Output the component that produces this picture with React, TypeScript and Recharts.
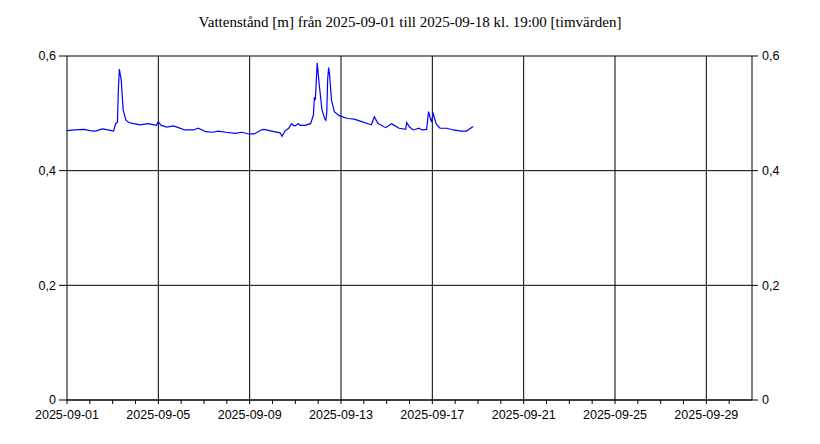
import React from 'react';
import { LineChart, Line, XAxis, YAxis, CartesianGrid, ReferenceLine } from 'recharts';

const TITLE = 'Vattenstånd [m] från 2025-09-01 till 2025-09-18 kl. 19:00 [timvärden]';

// hours since 2025-09-01 00:00
const hours = [
  0, 8, 18, 24, 30, 37, 43, 49, 51, 53, 54, 55, 57, 59, 62, 65, 70, 77, 85, 94,
  96, 99, 105, 112, 117, 124, 133, 138, 146, 153, 159, 167, 177, 184, 191, 197, 204, 207, 215, 224,
  226, 229, 233, 236, 238, 240, 243, 245, 250, 256, 259, 260, 261, 263, 265, 268, 271, 272, 273, 274,
  275, 276, 278, 281, 286, 295, 302, 309, 318, 320, 323, 327, 335, 341, 344, 349, 356, 357, 360, 364,
  370, 373, 378, 380, 383, 385, 388, 392, 399, 406, 414, 420, 426, 427,
];
// water level [m]
const levels = [
  0.470, 0.471, 0.472, 0.470, 0.469, 0.473, 0.471, 0.469, 0.482, 0.484, 0.541, 0.577, 0.558, 0.506, 0.488, 0.484, 0.482, 0.480, 0.482, 0.479,
  0.485, 0.479, 0.476, 0.478, 0.475, 0.471, 0.471, 0.474, 0.468, 0.467, 0.469, 0.467, 0.465, 0.467, 0.464, 0.464, 0.471, 0.472, 0.469, 0.466,
  0.460, 0.469, 0.474, 0.482, 0.479, 0.478, 0.482, 0.479, 0.479, 0.482, 0.497, 0.528, 0.523, 0.588, 0.552, 0.506, 0.490, 0.488, 0.500, 0.560,
  0.580, 0.567, 0.523, 0.503, 0.496, 0.491, 0.490, 0.486, 0.481, 0.480, 0.494, 0.482, 0.475, 0.482, 0.479, 0.474, 0.472, 0.484, 0.476, 0.471,
  0.474, 0.471, 0.472, 0.503, 0.485, 0.499, 0.482, 0.474, 0.474, 0.471, 0.469, 0.469, 0.476, 0.477,
];

const xTicks = [
  0, 24, 48, 72, 96, 120, 144, 168, 192, 216, 240, 264, 288, 312, 336, 360, 384, 408, 432, 456,
  480, 504, 528, 552, 576, 600, 624, 648, 672, 696,
];
const majorX = [96, 192, 288, 384, 480, 576, 672];
const yTicks = [0, 0.2, 0.4, 0.6];

const data = hours.map((h, i) => ({ h, v: levels[i] }));

const fmtY = (v: number) => (v === 0 ? '0' : v.toFixed(1).replace('.', ','));

const XTick = (props: any) => {
  const { x, y, payload } = props;
  const val = payload.value as number;
  if (val % 96 !== 0) return null;
  const day = 1 + val / 24;
  const label = `2025-09-${day < 10 ? '0' + day : day}`;
  return (
    <text x={x} y={y} dy="0.71em" textAnchor="middle" fontFamily="Liberation Sans, Arial, sans-serif" fontSize={12.5} fill="#000">
      {label}
    </text>
  );
};

const tickFont = { fontFamily: 'Liberation Sans, Arial, sans-serif', fontSize: 12.5, fill: '#000' };

export default function App() {
  return (
    <div style={{ position: 'absolute', left: 0, top: 0, width: 820, height: 444, background: '#fff' }}>
      <div
        style={{
          position: 'absolute',
          left: 0,
          top: 14,
          width: 820,
          textAlign: 'center',
          fontFamily: 'Liberation Serif, Times New Roman, serif',
          fontSize: 15,
          color: '#000',
          lineHeight: '17px',
        }}
      >
        {TITLE}
      </div>
      <LineChart width={820} height={444} data={data} margin={{ top: 56, right: 28, bottom: 14, left: 0 }}>
        <CartesianGrid vertical={false} stroke="#000" strokeOpacity={1} yAxisId="left" />
        <XAxis
          dataKey="h"
          type="number"
          domain={[0, 720]}
          ticks={xTicks}
          interval={0}
          height={30}
          tick={<XTick />}
          tickSize={4}
          tickMargin={6}
          axisLine={{ stroke: '#000' }}
          tickLine={{ stroke: '#000' }}
          allowDataOverflow
        />
        <YAxis
          yAxisId="left"
          width={67}
          domain={[0, 0.6]}
          ticks={yTicks}
          interval={0}
          tickFormatter={fmtY}
          tick={tickFont}
          tickSize={8}
          tickMargin={3}
          axisLine={{ stroke: '#000' }}
          tickLine={{ stroke: '#000' }}
        />
        <YAxis
          yAxisId="right"
          orientation="right"
          width={40}
          domain={[0, 0.6]}
          ticks={yTicks}
          interval={0}
          tickFormatter={fmtY}
          tick={tickFont}
          tickSize={6}
          tickMargin={4}
          axisLine={{ stroke: '#000' }}
          tickLine={{ stroke: '#000' }}
        />
        {majorX.map((x) => (
          <ReferenceLine key={x} x={x} yAxisId="left" stroke="#000" strokeWidth={1} />
        ))}
        <Line
          yAxisId="right"
          dataKey="v"
          type="linear"
          stroke="none"
          strokeWidth={0}
          dot={false}
          activeDot={false}
          legendType="none"
          isAnimationActive={false}
        />
        <Line
          yAxisId="left"
          dataKey="v"
          type="linear"
          stroke="#0000ff"
          strokeWidth={1.2}
          dot={false}
          isAnimationActive={false}
        />
      </LineChart>
    </div>
  );
}
